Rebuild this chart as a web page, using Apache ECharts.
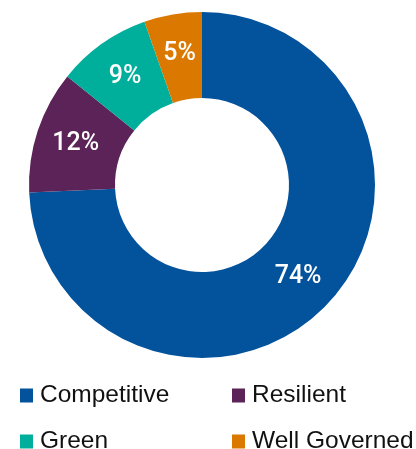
<!DOCTYPE html>
<html>
<head>
    <meta charset="utf-8">
    <title>Donut</title>
    <script src="https://cdn.jsdelivr.net/npm/echarts@6/dist/echarts.min.js"></script>
    <style>
        html, body { margin: 0; padding: 0; background: #fff; }
        #main { width: 416px; height: 449px; }
    </style>
</head>
<body>
<div id="main"></div>
<script>
    // 数据
    var categories = ['Competitive', 'Resilient', 'Green', 'Well Governed'];
    var shares = [74.3, 11.5, 8.8, 5.4];
    var colors = ['#03529C', '#5B2357', '#00AF9B', '#DA7800'];

    // 图例位置: 两列两行
    var legendPos = [[20, 383], [232, 383], [20, 429], [232, 429]];

    var pieData = categories.map(function (name, i) {
        return { name: name, value: shares[i], itemStyle: { color: colors[i] } };
    });

    var legends = categories.map(function (name, i) {
        return {
            left: legendPos[i][0],
            top: legendPos[i][1],
            padding: 0,
            itemWidth: 13,
            itemHeight: 14,
            itemGap: 7,
            icon: 'rect',
            data: [name],
            textStyle: {
                fontFamily: 'Liberation Sans',
                fontSize: 24.5,
                color: '#111',
                padding: [0, 0, 0, 2]
            }
        };
    });

    var option = {
        animation: false,
        legend: legends,
        series: [
            {
                type: 'pie',
                center: [202, 185],
                radius: [87, 173],
                startAngle: 90,
                clockwise: true,
                label: {
                    show: true,
                    position: 'inside',
                    color: '#fff',
                    fontFamily: 'Roboto',
                    fontWeight: 500,
                    fontSize: 25,
                    formatter: function (p) {
                        return Math.round(p.value) + '%';
                    }
                },
                labelLine: { show: false },
                data: pieData
            }
        ]
    };

    var myChart = echarts.init(document.getElementById('main'));
    myChart.setOption(option);
</script>
</body>
</html>
